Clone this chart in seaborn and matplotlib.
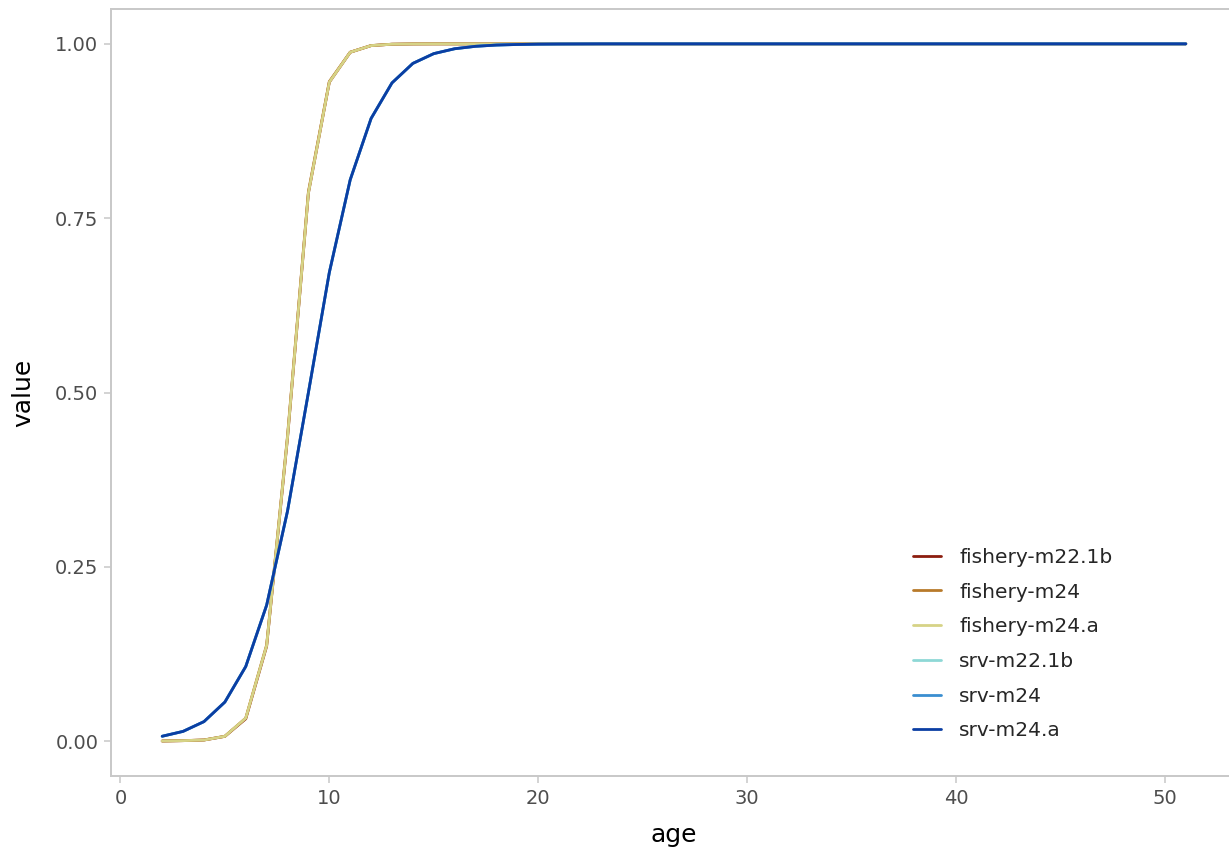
import numpy as np
import pandas as pd
import seaborn as sns
import matplotlib
matplotlib.use("Agg")
import matplotlib.pyplot as plt

# Selectivity-at-age curves by source and model
ages = list(range(2, 52))

fishery_m22_1b = [0.0002, 0.0007, 0.0016, 0.0068, 0.032, 0.136, 0.435, 0.786, 0.945, 0.988,
                  0.9975, 0.9995, 0.9999, 1.0, 1.0, 1.0, 1.0, 1.0, 1.0, 1.0,
                  1.0, 1.0, 1.0, 1.0, 1.0, 1.0, 1.0, 1.0, 1.0, 1.0,
                  1.0, 1.0, 1.0, 1.0, 1.0, 1.0, 1.0, 1.0, 1.0, 1.0,
                  1.0, 1.0, 1.0, 1.0, 1.0, 1.0, 1.0, 1.0, 1.0, 1.0]
fishery_m24 = [0.0002, 0.0007, 0.0017, 0.0070, 0.033, 0.138, 0.438, 0.788, 0.946, 0.988,
               0.9976, 0.9995, 0.9999, 1.0, 1.0, 1.0, 1.0, 1.0, 1.0, 1.0,
               1.0, 1.0, 1.0, 1.0, 1.0, 1.0, 1.0, 1.0, 1.0, 1.0,
               1.0, 1.0, 1.0, 1.0, 1.0, 1.0, 1.0, 1.0, 1.0, 1.0,
               1.0, 1.0, 1.0, 1.0, 1.0, 1.0, 1.0, 1.0, 1.0, 1.0]
fishery_m24_a = [0.0002, 0.0007, 0.0016, 0.0069, 0.033, 0.137, 0.436, 0.786, 0.945, 0.988,
                 0.9975, 0.9995, 0.9999, 1.0, 1.0, 1.0, 1.0, 1.0, 1.0, 1.0,
                 1.0, 1.0, 1.0, 1.0, 1.0, 1.0, 1.0, 1.0, 1.0, 1.0,
                 1.0, 1.0, 1.0, 1.0, 1.0, 1.0, 1.0, 1.0, 1.0, 1.0,
                 1.0, 1.0, 1.0, 1.0, 1.0, 1.0, 1.0, 1.0, 1.0, 1.0]
srv_curve = [0.007, 0.014, 0.028, 0.056, 0.107, 0.195, 0.330, 0.500, 0.672, 0.805,
             0.893, 0.944, 0.972, 0.986, 0.993, 0.9965, 0.9983, 0.9991, 0.9996, 0.9998,
             0.9999, 1.0, 1.0, 1.0, 1.0, 1.0, 1.0, 1.0, 1.0, 1.0,
             1.0, 1.0, 1.0, 1.0, 1.0, 1.0, 1.0, 1.0, 1.0, 1.0,
             1.0, 1.0, 1.0, 1.0, 1.0, 1.0, 1.0, 1.0, 1.0, 1.0]
srv_m22_1b = srv_curve
srv_m24 = srv_curve
srv_m24_a = srv_curve

series_names = ["fishery-m22.1b", "fishery-m24", "fishery-m24.a",
                "srv-m22.1b", "srv-m24", "srv-m24.a"]
series_values = [fishery_m22_1b, fishery_m24, fishery_m24_a,
                 srv_m22_1b, srv_m24, srv_m24_a]
series_colors = ["#8C1D0E", "#B87A2A", "#D6D386", "#8ED8D6", "#3A8ED0", "#0B3EA3"]

x_ticks = [0, 10, 20, 30, 40, 50]
y_ticks = [0.00, 0.25, 0.50, 0.75, 1.00]
y_tick_labels = ["0.00", "0.25", "0.50", "0.75", "1.00"]

df = pd.concat(
    [pd.DataFrame({"age": ages, "value": vals, "model": name})
     for name, vals in zip(series_names, series_values)],
    ignore_index=True,
)

sns.set_theme(style="white")
plt.rcParams["font.family"] = ["DejaVu Sans"]

W, H = 1229, 851
fig = plt.figure(figsize=(W / 100, H / 100), dpi=100)
ax_left, ax_right, ax_top, ax_bottom = 111, 1237, 9, 776
ax = fig.add_axes([ax_left / W, 1 - ax_bottom / H,
                   (ax_right - ax_left) / W, (ax_bottom - ax_top) / H])

palette = dict(zip(series_names, series_colors))
sns.lineplot(data=df, x="age", y="value", hue="model", hue_order=series_names,
             palette=palette, linewidth=2.0, ax=ax, estimator=None, sort=True)

x_min, x_max = min(ages), max(ages)
pad = 0.05 * (x_max - x_min)
ax.set_xlim(x_min - pad, x_max + pad)
ax.set_ylim(-0.05, 1.05)
ax.set_xticks(x_ticks)
ax.set_yticks(y_ticks)
ax.set_yticklabels(y_tick_labels)

border = "#C8C8C8"
for sp in ax.spines.values():
    sp.set_visible(True)
    sp.set_color(border)
    sp.set_linewidth(1.4)
ax.tick_params(axis="both", which="major", length=5, width=1.1, color=border,
               labelsize=14, labelcolor="#4D4D4D", direction="out", pad=4,
               bottom=True, left=True)
ax.grid(False)

ax.set_xlabel("age", fontsize=18, color="black", labelpad=11)
ax.set_ylabel("value", fontsize=18, color="black", labelpad=14)

handles, labels = ax.get_legend_handles_labels()
ax.legend(handles, labels, loc="center left", bbox_to_anchor=(0.712, 0.172),
          frameon=False, fontsize=14.5, handlelength=1.4, handletextpad=0.9,
          labelspacing=0.78, borderpad=0, borderaxespad=0)

fig.savefig("out.png", dpi=100, facecolor="white")
